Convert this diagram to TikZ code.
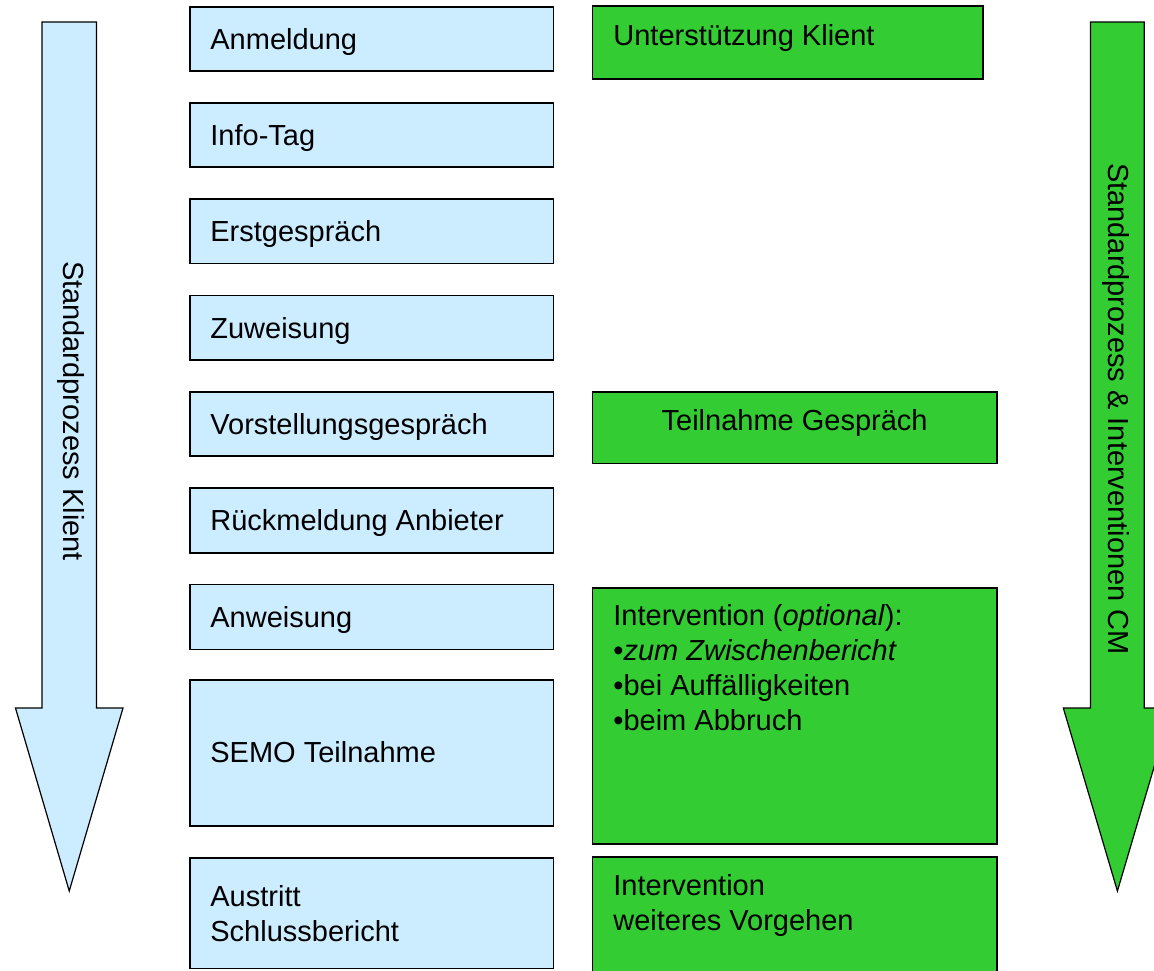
\documentclass[tikz,border=0pt]{standalone}
\usepackage{fontspec}
\setmainfont{Liberation Sans}
\newlength{\du}
\setlength{\du}{0.5pt}

\begin{document}
\begin{tikzpicture}[
  boxline/.style={line width=1.6\du, line join=miter},
  arrowline/.style={line width=1.2\du, line join=miter},
  lbl/.style={inner sep=0pt, anchor=base west, align=left, font=\fontsize{14.5pt}{17.4pt}\selectfont},
  sidelbl/.style={inner sep=0pt, rotate=-90, font=\fontsize{14.5pt}{17.4pt}\selectfont}
]
\pgftransformxscale{1.000000}
\pgftransformyscale{-1.000000}
\definecolor{kliblue}{rgb}{0.800000, 0.925490, 1.000000}
\definecolor{cmgreen}{rgb}{0.200000, 0.800000, 0.200000}
\useasboundingbox (0\du,0\du) rectangle (1154\du,970\du);
% arrow left
\filldraw[fill=kliblue, arrowline] (42\du,22\du)--(96.5\du,22\du)--(96.5\du,708\du)--(123\du,708\du)--(69.25\du,891\du)--(15.5\du,708\du)--(42\du,708\du)--cycle;
\node (klient) [sidelbl] at (70.5\du,411\du){Standardprozess Klient};
% arrow right
\filldraw[fill=cmgreen, arrowline] (1090.5\du,22\du)--(1144.3\du,22\du)--(1144.3\du,708\du)--(1171.5\du,708\du)--(1117.4\du,891\du)--(1063.3\du,708\du)--(1090.5\du,708\du)--cycle;
\node (cm) [sidelbl] at (1115.5\du,409\du){Standardprozess \& Interventionen CM};
% steps klient
\filldraw[fill=kliblue, boxline] (190\du,7\du) rectangle (553.3\du,71\du);
\node (anm) [lbl] at (210\du,49.4\du){Anmeldung};
\filldraw[fill=kliblue, boxline] (190\du,103\du) rectangle (553.3\du,167\du);
\node (info) [lbl] at (210\du,145.4\du){Info-Tag};
\filldraw[fill=kliblue, boxline] (190\du,199\du) rectangle (553.3\du,263.3\du);
\node (erst) [lbl] at (210\du,241.6\du){Erstgespräch};
\filldraw[fill=kliblue, boxline] (190\du,295.3\du) rectangle (553.3\du,360\du);
\node (zuw) [lbl] at (210\du,338.3\du){Zuweisung};
\filldraw[fill=kliblue, boxline] (190\du,391.7\du) rectangle (553.3\du,456\du);
\node (vorst) [lbl] at (210\du,434.3\du){Vorstellungsgespräch};
\filldraw[fill=kliblue, boxline] (190\du,487.7\du) rectangle (553.3\du,552.7\du);
\node (rueck) [lbl] at (210\du,530.3\du){Rückmeldung Anbieter};
\filldraw[fill=kliblue, boxline] (190\du,584.3\du) rectangle (553.3\du,649.3\du);
\node (anw) [lbl] at (210\du,627.5\du){Anweisung};
\filldraw[fill=kliblue, boxline] (190\du,680\du) rectangle (553.3\du,825.7\du);
\node (semo) [lbl] at (210\du,762.7\du){SEMO Teilnahme};
\filldraw[fill=kliblue, boxline] (190\du,857.7\du) rectangle (553.3\du,968.5\du);
% base = last line
\node (austr) [lbl] at (210\du,941.7\du){Austritt\\Schlussbericht};
% interventionen CM
\filldraw[fill=cmgreen, boxline] (592.6\du,6\du) rectangle (983\du,78.7\du);
\node (unt) [lbl] at (613\du,45\du){Unterstützung Klient};
\filldraw[fill=cmgreen, boxline] (592.6\du,391.7\du) rectangle (996.7\du,463.3\du);
\node (teiln) [lbl, anchor=base] at (794.6\du,430\du){Teilnahme Gespräch};
\filldraw[fill=cmgreen, boxline] (592.6\du,587.7\du) rectangle (996.7\du,844\du);
\node (interv) [lbl] at (613\du,730\du){Intervention (\textit{optional}):\\•\textit{zum Zwischenbericht}\\•bei Auffälligkeiten\\•beim Abbruch};
\filldraw[fill=cmgreen, boxline] (592.6\du,856.7\du) rectangle (996.7\du,972\du);
\node (weiter) [lbl] at (613\du,930\du){Intervention\\weiteres Vorgehen};
\end{tikzpicture}
\end{document}
